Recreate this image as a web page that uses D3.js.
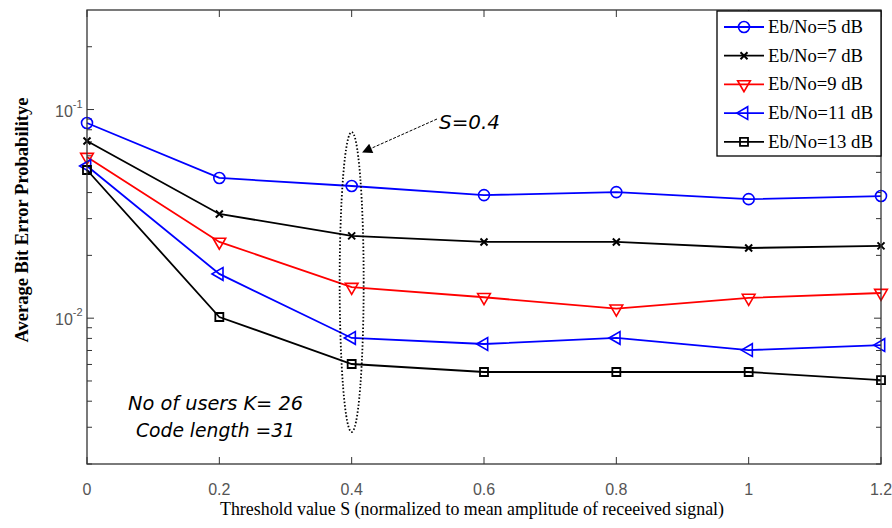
<!DOCTYPE html>
<html>
<head>
<meta charset="utf-8">
<script src="https://cdn.jsdelivr.net/npm/d3@7"></script>
<style>
  body { margin: 0; background: #fff; }
  svg { display: block; }
</style>
</head>
<body>
<div id="chart"></div>
<script>
// data
var thresholds = [0, 0.2, 0.4, 0.6, 0.8, 1.0, 1.2];
var seriesNames = ["Eb/No=5 dB", "Eb/No=7 dB", "Eb/No=9 dB", "Eb/No=11 dB", "Eb/No=13 dB"];
var ber5  = [0.0862, 0.0470, 0.0430, 0.0389, 0.0402, 0.0372, 0.0385];
var ber7  = [0.0707, 0.0316, 0.0248, 0.0232, 0.0232, 0.0217, 0.0222];
var ber9  = [0.0592, 0.0232, 0.0141, 0.0126, 0.0111, 0.0125, 0.0132];
var ber11 = [0.0536, 0.0163, 0.00804, 0.00752, 0.00804, 0.00703, 0.00743];
var ber13 = [0.0513, 0.01013, 0.00603, 0.00552, 0.00552, 0.00552, 0.00505];
var xTicks = [0, 0.2, 0.4, 0.6, 0.8, 1, 1.2];
var xTickLabels = ["0", "0.2", "0.4", "0.6", "0.8", "1", "1.2"];
var yMajor = [0.1, 0.01];
var yMajorLabels = ["-1", "-2"];

var allSeries = [ber5, ber7, ber9, ber11, ber13];
var colors = ["#0000ff", "#000000", "#ff0000", "#0000ff", "#000000"];
var markers = ["circle", "x", "down", "left", "square"];

var W = 892, H = 528;
var m = {l: 87, r: 11, t: 10, b: 64};

var svg = d3.select("#chart").append("svg")
  .attr("width", W).attr("height", H);

var x = d3.scaleLinear().domain([0, 1.2]).range([m.l, W - m.r]);
var y = d3.scaleLog().domain([0.002, 0.3]).range([H - m.b, m.t]);

// minor + major ticks of the log axis
var yTicks = [];
[0.001, 0.01, 0.1].forEach(function(dec) {
  for (var k = 1; k <= 9; k++) {
    var v = dec * k;
    if (v >= 0.002 && v <= 0.3) yTicks.push(v);
  }
});

var tickLen = 7;
var axes = svg.append("g").attr("stroke", "#333").attr("stroke-width", 1);

xTicks.forEach(function(t) {
  axes.append("line").attr("x1", x(t)).attr("x2", x(t))
    .attr("y1", y(0.002)).attr("y2", y(0.002) - tickLen);
  axes.append("line").attr("x1", x(t)).attr("x2", x(t))
    .attr("y1", y(0.3)).attr("y2", y(0.3) + tickLen);
});
yTicks.forEach(function(t) {
  var len = yMajor.indexOf(t) > -1 ? tickLen : 5;
  axes.append("line").attr("x1", x(0)).attr("x2", x(0) + len)
    .attr("y1", y(t)).attr("y2", y(t));
  axes.append("line").attr("x1", x(1.2)).attr("x2", x(1.2) - len)
    .attr("y1", y(t)).attr("y2", y(t));
});

// tick labels
svg.selectAll("text.xt")
  .data(xTicks)
  .enter().append("text")
  .attr("class", "xt")
  .attr("x", function(d) { return x(d); })
  .attr("y", H - m.b + 31)
  .attr("text-anchor", "middle")
  .attr("font-family", "Liberation Sans, Arial, sans-serif")
  .attr("font-size", 16)
  .attr("fill", "#555")
  .text(function(d, i) { return xTickLabels[i]; });

yMajor.forEach(function(v, i) {
  var t = svg.append("text")
    .attr("x", m.l - 32).attr("y", y(v) + 7)
    .attr("font-family", "Liberation Sans, Arial, sans-serif")
    .attr("font-size", 16)
    .attr("fill", "#555");
  t.append("tspan").text("10");
  t.append("tspan").attr("dy", -9).attr("font-size", 11).text(yMajorLabels[i]);
});

// axis titles
svg.append("text")
  .attr("x", 472).attr("y", H - 13)
  .attr("text-anchor", "middle")
  .attr("font-family", "Liberation Serif, Times New Roman, serif")
  .attr("font-size", 18)
  .attr("textLength", 504)
  .attr("lengthAdjust", "spacingAndGlyphs")
  .text("Threshold value S (normalized to mean amplitude of receeived signal)");

svg.append("text")
  .attr("transform", "translate(28," + 220 + ") rotate(-90)")
  .attr("text-anchor", "middle")
  .attr("font-family", "Liberation Serif, Times New Roman, serif")
  .attr("font-weight", "bold")
  .attr("font-size", 18)
  .attr("textLength", 245)
  .attr("lengthAdjust", "spacingAndGlyphs")
  .text("Average Bit Error Probabilitye");

// marker drawing
function drawMarker(g, type, color) {
  if (type === "circle") {
    g.append("circle").attr("r", 5.5).attr("fill", "none")
      .attr("stroke", color).attr("stroke-width", 1.6);
  } else if (type === "x") {
    g.append("path").attr("d", "M-3.5,-3.5L3.5,3.5M-3.5,3.5L3.5,-3.5")
      .attr("stroke", color).attr("stroke-width", 2);
  } else if (type === "down") {
    g.append("path").attr("d", d3.symbol().type(d3.symbolTriangle).size(70)())
      .attr("transform", "rotate(180)")
      .attr("fill", "none").attr("stroke", color).attr("stroke-width", 1.6);
  } else if (type === "left") {
    g.append("path").attr("d", d3.symbol().type(d3.symbolTriangle).size(70)())
      .attr("transform", "rotate(-90)")
      .attr("fill", "none").attr("stroke", color).attr("stroke-width", 1.6);
  } else if (type === "square") {
    g.append("path").attr("d", d3.symbol().type(d3.symbolSquare).size(64)())
      .attr("fill", "none").attr("stroke", color).attr("stroke-width", 1.8);
  }
}

var line = d3.line()
  .x(function(d, i) { return x(thresholds[i]); })
  .y(function(d) { return y(d); });

allSeries.forEach(function(s, si) {
  svg.append("path")
    .datum(s)
    .attr("d", line)
    .attr("fill", "none")
    .attr("stroke", colors[si])
    .attr("stroke-width", 1.8);
  s.forEach(function(v, i) {
    var g = svg.append("g").attr("transform", "translate(" + x(thresholds[i]) + "," + y(v) + ")");
    drawMarker(g, markers[si], colors[si]);
  });
});

// frame
svg.append("rect")
  .attr("x", m.l).attr("y", m.t)
  .attr("width", W - m.r - m.l).attr("height", H - m.b - m.t)
  .attr("fill", "none").attr("stroke", "#333").attr("stroke-width", 1.3);

// S=0.4 annotation: dotted ellipse and arrow
svg.append("ellipse")
  .attr("cx", x(0.4)).attr("cy", 282)
  .attr("rx", 12).attr("ry", 150)
  .attr("fill", "none").attr("stroke", "#000")
  .attr("stroke-width", 1.8).attr("stroke-dasharray", "1.5,2");

svg.append("defs").append("marker")
  .attr("id", "arrow").attr("viewBox", "0 0 10 10")
  .attr("refX", 9).attr("refY", 5)
  .attr("markerWidth", 12).attr("markerHeight", 10)
  .attr("markerUnits", "userSpaceOnUse")
  .attr("orient", "auto")
  .append("path").attr("d", "M0,0L10,5L0,10z").attr("fill", "#000");

svg.append("line")
  .attr("x1", 437).attr("y1", 119)
  .attr("x2", 363).attr("y2", 152)
  .attr("stroke", "#000").attr("stroke-width", 1)
  .attr("stroke-dasharray", "3,1.5")
  .attr("marker-end", "url(#arrow)");

svg.append("text")
  .attr("x", 439).attr("y", 129)
  .attr("font-family", "DejaVu Sans, sans-serif")
  .attr("font-style", "italic")
  .attr("font-size", 20)
  .attr("textLength", 61)
  .attr("lengthAdjust", "spacingAndGlyphs")
  .text("S=0.4");

svg.append("text")
  .attr("x", 128).attr("y", 410)
  .attr("font-family", "DejaVu Sans, sans-serif")
  .attr("font-style", "italic")
  .attr("font-size", 20)
  .attr("textLength", 175)
  .attr("lengthAdjust", "spacingAndGlyphs")
  .text("No of users K= 26");

svg.append("text")
  .attr("x", 136).attr("y", 437)
  .attr("font-family", "DejaVu Sans, sans-serif")
  .attr("font-style", "italic")
  .attr("font-size", 20)
  .attr("textLength", 159)
  .attr("lengthAdjust", "spacingAndGlyphs")
  .text("Code length =31");

// legend
var lg = svg.append("g");
lg.append("rect")
  .attr("x", 717).attr("y", 11)
  .attr("width", 164).attr("height", 145)
  .attr("fill", "#fff").attr("stroke", "#000").attr("stroke-width", 1.3);

seriesNames.forEach(function(name, i) {
  var yy = 27 + i * 28.7;
  lg.append("line")
    .attr("x1", 724).attr("x2", 764)
    .attr("y1", yy).attr("y2", yy)
    .attr("stroke", colors[i]).attr("stroke-width", 1.8);
  var g = lg.append("g").attr("transform", "translate(744," + yy + ")");
  drawMarker(g, markers[i], colors[i]);
  lg.append("text")
    .attr("x", 768).attr("y", yy + 6)
    .attr("font-family", "Liberation Serif, Times New Roman, serif")
    .attr("font-size", 18)
    .attr("textLength", name.length > 10 ? 105 : 95)
    .attr("lengthAdjust", "spacingAndGlyphs")
    .text(name);
});
</script>
</body>
</html>
